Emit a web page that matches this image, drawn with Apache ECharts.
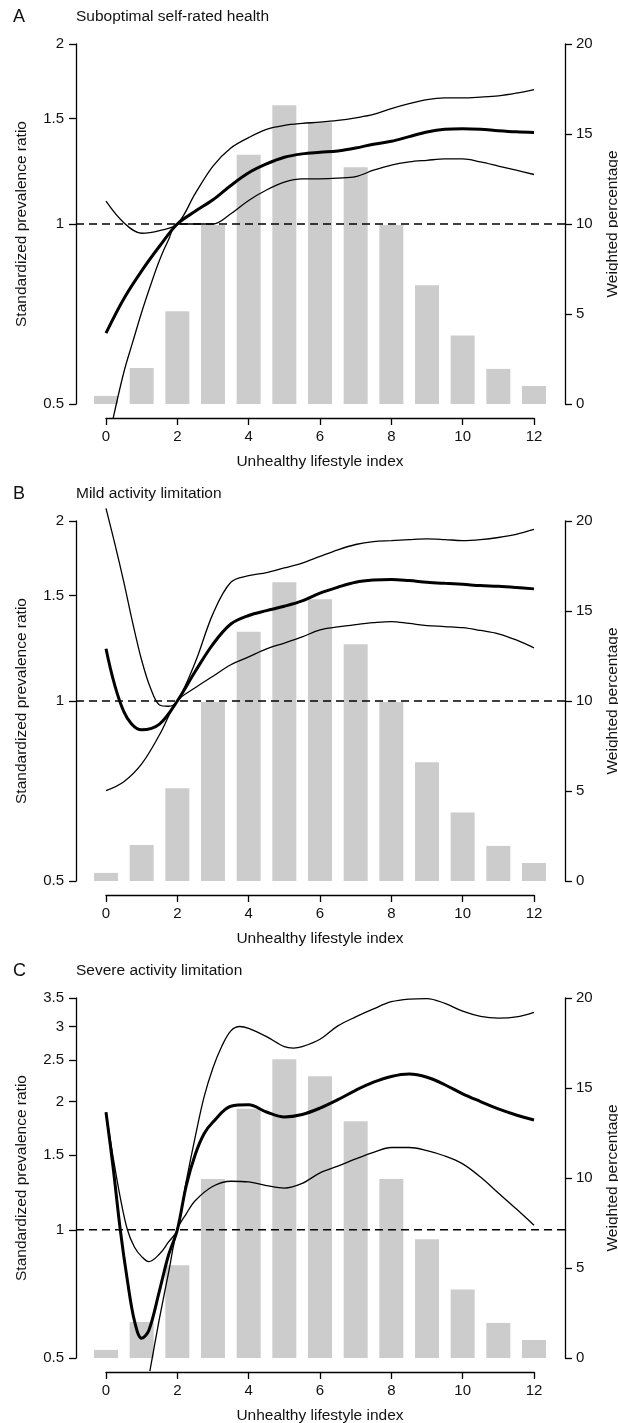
<!DOCTYPE html>
<html><head><meta charset="utf-8">
<script src="https://cdn.jsdelivr.net/npm/echarts@6/dist/echarts.min.js"></script>
<style>html,body{margin:0;padding:0;background:#fff}#c{width:618px;height:1423px}</style>
</head><body><div id="c"></div>
<script>
// ---- shared bar data (weighted percentage per index) ----
const categories = [0,1,2,3,4,5,6,7,8,9,10,11,12];
const weightedPct = [0.45,2.0,5.15,9.95,13.85,16.6,15.65,13.15,9.95,6.6,3.8,1.95,1.0];

// ---- Panel A: Suboptimal self-rated health ----
const aX = [0,0.5,1,1.5,2,2.5,3,3.5,4,4.5,5,5.5,6,6.5,7,7.5,8,8.5,9,9.5,10,10.5,11,11.5,12];
const aEst = [0.657,0.75,0.835,0.918,1.0,1.05,1.098,1.16,1.218,1.26,1.293,1.31,1.318,1.325,1.34,1.36,1.375,1.40,1.425,1.44,1.443,1.44,1.432,1.426,1.423];
const aUp = [1.092,1.005,0.965,0.975,1.0,1.124,1.25,1.34,1.395,1.44,1.462,1.473,1.48,1.49,1.505,1.525,1.56,1.59,1.615,1.625,1.625,1.63,1.638,1.655,1.678];
const aLowX = [0.2,0.5,0.75,1,1.25,1.5,1.75,2,2.5,3,3.5,4,4.5,5,5.5,6,6.5,7,7.5,8,8.5,9,9.5,10,10.5,11,11.5,12];
const aLow = [0.473,0.565,0.635,0.712,0.79,0.87,0.94,1.0,1.0,1.0,1.04,1.095,1.14,1.175,1.19,1.19,1.193,1.2,1.23,1.255,1.27,1.278,1.285,1.285,1.27,1.25,1.23,1.21];
const aTicks = [0.5,1,1.5,2];

// ---- Panel B: Mild activity limitation ----
const bX = [0,0.5,1,1.5,2,2.5,3,3.5,4,4.5,5,5.5,6,6.5,7,7.5,8,8.5,9,9.5,10,10.5,11,11.5,12];
const bEst = [1.223,0.96,0.895,0.915,1.0,1.12,1.245,1.345,1.39,1.416,1.44,1.47,1.515,1.55,1.58,1.593,1.597,1.59,1.58,1.573,1.567,1.56,1.555,1.548,1.54];
const bUpX = [0,0.25,0.5,0.75,1,1.25,1.5,1.75,2,2.5,3,3.5,4,4.5,5,5.5,6,6.5,7,7.5,8,8.5,9,9.5,10,10.5,11,11.5,12];
const bUp = [2.1,1.83,1.58,1.35,1.17,1.05,0.985,0.98,1.0,1.16,1.40,1.58,1.62,1.64,1.67,1.70,1.745,1.79,1.827,1.848,1.855,1.862,1.867,1.862,1.855,1.862,1.877,1.9,1.936];
const bLow = [0.708,0.733,0.785,0.878,1.0,1.052,1.1,1.15,1.185,1.222,1.25,1.28,1.315,1.33,1.342,1.352,1.358,1.348,1.337,1.332,1.326,1.312,1.295,1.265,1.227];
const bTicks = [0.5,1,1.5,2];

// ---- Panel C: Severe activity limitation ----
const cEstX = [0,0.2,0.4,0.6,0.8,1,1.2,1.5,1.75,2,2.25,2.5,2.75,3,3.5,4,4.5,5,5.5,6,6.5,7,7.5,8,8.5,9,9.5,10,10.5,11,11.5,12];
const cEst = [1.888,1.40,1.0,0.76,0.61,0.556,0.58,0.72,0.87,1.0,1.27,1.5,1.68,1.79,1.95,1.965,1.89,1.84,1.865,1.93,2.02,2.125,2.22,2.29,2.32,2.28,2.19,2.085,2.0,1.922,1.86,1.81];
const cUpX = [0,0.2,0.4,0.6,0.8,1,1.2,1.5,1.75,2,2.25,2.5,2.75,3,3.25,3.5,3.75,4,4.5,5,5.25,5.5,6,6.5,7,7.5,8,8.5,9,9.5,10,10.5,11,11.5,12];
const cUp = [1.888,1.48,1.19,1.0,0.91,0.865,0.842,0.877,0.935,1.0,1.3,1.65,2.05,2.4,2.7,2.93,3.0,2.97,2.84,2.69,2.67,2.69,2.8,3.01,3.16,3.3,3.43,3.48,3.49,3.4,3.26,3.17,3.14,3.16,3.24];
const cLowX = [1.23,1.5,1.75,2,2.25,2.5,3,3.5,4,4.5,5,5.5,6,6.5,7,7.5,8,8.5,9,9.5,10,10.5,11,11.5,12];
const cLow = [0.466,0.62,0.79,1.0,1.09,1.17,1.265,1.3,1.295,1.27,1.253,1.285,1.36,1.41,1.467,1.52,1.56,1.56,1.534,1.49,1.428,1.33,1.22,1.12,1.025];
const cTicks = [0.5,1,1.5,2,2.5,3,3.5];

const titles = ['Suboptimal self-rated health','Mild activity limitation','Severe activity limitation'];
const letters = ['A','B','C'];
const refValue = 1;

const zip = (xs, ys) => xs.map((x, i) => [x, ys[i]]);
const panels = [
  {min:0.5, max:2, ticks:aTicks, est:zip(aX,aEst), up:zip(aX,aUp), low:zip(aLowX,aLow)},
  {min:0.5, max:2, ticks:bTicks, est:zip(bX,bEst), up:zip(bUpX,bUp), low:zip(bX,bLow)},
  {min:0.5, max:3.5, ticks:cTicks, est:zip(cEstX,cEst), up:zip(cUpX,cUp), low:zip(cLowX,cLow)}
];

// layout
const FONT = "'Liberation Sans', Arial, Helvetica, sans-serif";
const GL = 106, GW = 428, GH = 360, TOP0 = 44, STEP = 477;
const OFF_L = 30, OFF_R = 31, OFF_X = 14;
const TXT = '#111';

const grid = [], xAxis = [], yAxis = [], series = [], graphic = [];
const axisLineStyle = {color:'#000', width:1.3};
panels.forEach((p, i) => {
  const top = TOP0 + STEP * i;
  grid.push({left:GL, width:GW, top:top, height:GH, outerBoundsMode:'none', containLabel:false});
  xAxis.push({
    type:'value', gridIndex:i, min:0, max:12, interval:2, offset:OFF_X,
    axisLine:{show:true, onZero:false, lineStyle:axisLineStyle},
    axisTick:{show:true, length:7, lineStyle:axisLineStyle},
    axisLabel:{margin:11, fontSize:15, color:TXT, fontFamily:FONT},
    splitLine:{show:false},
    name:'Unhealthy lifestyle index', nameLocation:'middle', nameGap:36,
    nameTextStyle:{fontSize:15.5, color:TXT, fontFamily:FONT}
  });
  yAxis.push({
    type:'log', gridIndex:i, min:p.min, max:p.max, position:'left', offset:OFF_L,
    axisLine:{show:true, onZero:false, lineStyle:axisLineStyle},
    axisTick:{show:true, length:7, lineStyle:axisLineStyle, customValues:p.ticks},
    axisLabel:{margin:12, fontSize:15, color:TXT, fontFamily:FONT, customValues:p.ticks},
    splitLine:{show:false}, minorTick:{show:false},
    name:'Standardized prevalence ratio', nameLocation:'middle', nameRotate:90, nameGap:46,
    nameTextStyle:{fontSize:15.5, color:TXT, fontFamily:FONT}
  });
  yAxis.push({
    type:'value', gridIndex:i, min:0, max:20, interval:5, position:'right', offset:OFF_R,
    axisLine:{show:true, onZero:false, lineStyle:axisLineStyle},
    axisTick:{show:true, length:7, lineStyle:axisLineStyle},
    axisLabel:{margin:11, fontSize:15, color:TXT, fontFamily:FONT},
    splitLine:{show:false},
    name:'Weighted percentage', nameLocation:'middle', nameRotate:90, nameGap:40,
    nameTextStyle:{fontSize:15.5, color:TXT, fontFamily:FONT}
  });
  series.push({
    type:'bar', xAxisIndex:i, yAxisIndex:2*i+1, barWidth:24, clip:false, z:1,
    itemStyle:{color:'#cccccc'}, silent:true,
    data: categories.map((c, k) => [c, weightedPct[k]])
  });
  [[p.up,1.3],[p.low,1.3],[p.est,3]].forEach(([d,w]) => {
    series.push({
      type:'line', xAxisIndex:i, yAxisIndex:2*i, symbol:'none', clip:false, z:3, silent:true,
      smooth:0.35, lineStyle:{color:'#000', width:w}, data:d
    });
  });
  graphic.push({type:'text', left:13, top:top-36, style:{text:letters[i], font:'18px '+FONT, fill:TXT}});
  graphic.push({type:'text', left:76, top:top-35, style:{text:titles[i], font:'15.5px '+FONT, fill:TXT}});
});

const chart = echarts.init(document.getElementById('c'), null, {renderer:'canvas'});
chart.setOption({animation:false, backgroundColor:'#fff', grid, xAxis, yAxis, series, graphic});

// dashed reference line at ratio = 1, spanning from left axis to right axis
const refLines = panels.map((p, i) => {
  const yPix = chart.convertToPixel({yAxisIndex:2*i}, refValue);
  const x0 = chart.convertToPixel({xAxisIndex:i}, 0) - OFF_L;
  const x1 = chart.convertToPixel({xAxisIndex:i}, 12) + OFF_R;
  return {type:'line', z:2, silent:true,
    shape:{x1:x0, y1:yPix, x2:x1, y2:yPix},
    style:{stroke:'#000', lineWidth:1.5, lineDash:[8,5]}};
});
chart.setOption({graphic: graphic.concat(refLines)});
</script>
</body></html>
